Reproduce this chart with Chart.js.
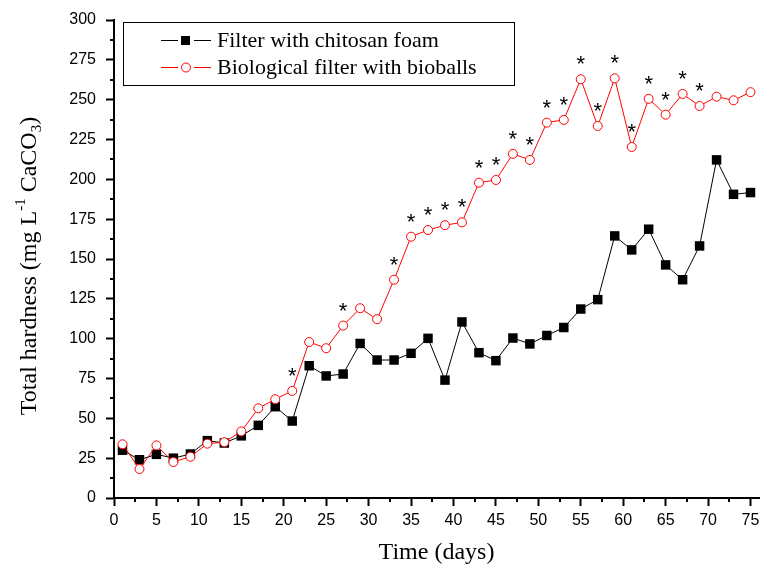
<!DOCTYPE html>
<html>
<head>
<meta charset="utf-8">
<script src="https://cdn.jsdelivr.net/npm/chart.js@4.4.0/dist/chart.umd.min.js"></script>
<style>
  body { margin: 0; background: #fff; }
  #wrap { width: 769px; height: 569px; }
</style>
</head>
<body>
<div id="wrap"><canvas id="myChart" width="769" height="569"></canvas></div>
<script>
// sampling days
const days = [1, 3, 5, 7, 9, 11, 13, 15, 17, 19, 21, 23, 25, 27, 29, 31, 33, 35, 37,
  39, 41, 43, 45, 47, 49, 51, 53, 55, 57, 59, 61, 63, 65, 67, 69, 71, 73, 75];

// total hardness, mg/L CaCO3
const chitosan = [30, 24, 27.4, 25, 27.6, 36, 34.5, 39, 45.6, 57.3, 48.3, 83, 76.6, 77.8,
  97, 86.6, 86.6, 90.8, 100.2, 74, 110.5, 91.2, 86.2, 100.4, 96.7, 102, 107, 118.6,
  124.5, 164.5, 155.7, 168.7, 146.3, 137, 158.2, 212.2, 190.6, 191.7];
const bioballs = [33.7, 18.2, 33, 22.6, 25.9, 34.1, 35, 41.8, 56.3, 62, 67.2, 97.9, 94,
  108.2, 119.1, 112.2, 137, 164, 168.2, 171.2, 173, 197.9, 199.6, 216, 212.2, 235.6,
  237.3, 262.8, 233.5, 263.4, 220.3, 250.5, 240.6, 253.6, 246, 251.9, 249.6, 254.7];

// days marked with a significance asterisk
const sigDays = [21, 27, 33, 35, 37, 39, 41, 43, 45, 47, 49, 51, 53, 55, 57, 59, 61, 63, 65, 67, 69];

const xTicks = [0, 5, 10, 15, 20, 25, 30, 35, 40, 45, 50, 55, 60, 65, 70, 75];
const yTicks = [0, 25, 50, 75, 100, 125, 150, 175, 200, 225, 250, 275, 300];

const serif = "'Liberation Serif', 'Times New Roman', serif";
const sans = "'Liberation Sans', Arial, sans-serif";

const toXY = (vals) => vals.map((v, i) => ({ x: days[i], y: v }));

// minor ticks halfway between the major ones
const minorTicks = {
  id: 'minorTicks',
  afterDraw(chart) {
    const c = chart.ctx;
    const xs = chart.scales.x, ys = chart.scales.y;
    c.save();
    c.strokeStyle = '#000';
    c.lineWidth = 2;
    c.beginPath();
    for (let i = 0; i < xTicks.length; i++) {
      const v = xTicks[i] + 2.5;
      if (v > xs.max) break;
      const px = Math.round(xs.getPixelForValue(v));
      c.moveTo(px, xs.top);
      c.lineTo(px, xs.top + 4);
    }
    for (let i = 0; i < yTicks.length - 1; i++) {
      const py = Math.round(ys.getPixelForValue(yTicks[i] + 12.5));
      c.moveTo(ys.right, py);
      c.lineTo(ys.right - 4, py);
    }
    c.stroke();
    c.restore();
  }
};

// asterisks above the bioball points
const stars = {
  id: 'stars',
  afterDatasetsDraw(chart) {
    const c = chart.ctx;
    const meta = chart.getDatasetMeta(1);
    c.save();
    c.fillStyle = '#000';
    c.font = '22px ' + sans;
    c.textAlign = 'center';
    c.textBaseline = 'alphabetic';
    sigDays.forEach(d => {
      const i = days.indexOf(d);
      const pt = meta.data[i];
      c.fillText('*', pt.x, pt.y - 8);
    });
    c.restore();
  }
};

// y axis title with super/subscripts
const yTitle = {
  id: 'yTitle',
  afterDraw(chart) {
    const c = chart.ctx;
    const parts = [
      { t: 'Total hardness (mg L', size: 24, dy: 0 },
      { t: '-1', size: 15, dy: -9 },
      { t: ' CaCO', size: 24, dy: 0 },
      { t: '3', size: 15, dy: 7 },
      { t: ')', size: 24, dy: 0 }
    ];
    c.save();
    c.translate(30, 266);
    c.rotate(-Math.PI / 2);
    c.fillStyle = '#000';
    c.textBaseline = 'middle';
    c.textAlign = 'left';
    let total = 0;
    parts.forEach(p => { c.font = p.size + 'px ' + serif; p.w = c.measureText(p.t).width; total += p.w; });
    let x = -total / 2;
    parts.forEach(p => {
      c.font = p.size + 'px ' + serif;
      c.fillText(p.t, x, p.dy);
      x += p.w;
    });
    c.restore();
  }
};

// legend box inside the plot
const boxLegend = {
  id: 'boxLegend',
  afterDraw(chart) {
    const c = chart.ctx;
    c.save();
    c.strokeStyle = '#000';
    c.lineWidth = 1;
    c.strokeRect(123.5, 22.5, 391, 63);
    const rows = [40, 67];
    chart.data.datasets.forEach((ds, i) => {
      const y = rows[i];
      c.strokeStyle = ds.borderColor;
      c.lineWidth = 1;
      c.beginPath();
      c.moveTo(161, y + 0.5); c.lineTo(178, y + 0.5);
      c.moveTo(194, y + 0.5); c.lineTo(211, y + 0.5);
      c.stroke();
      if (ds.pointStyle === 'rect') {
        c.fillStyle = ds.pointBackgroundColor;
        c.fillRect(181, y - 4, 9, 9);
      } else {
        c.fillStyle = '#fff';
        c.strokeStyle = ds.pointBorderColor;
        c.beginPath();
        c.arc(186, y + 0.5, 4.5, 0, Math.PI * 2);
        c.fill();
        c.stroke();
      }
      c.fillStyle = '#000';
      c.font = '22px ' + serif;
      c.textBaseline = 'middle';
      c.fillText(ds.label, 217, y + 1);
    });
    c.restore();
  }
};

const ctx = document.getElementById('myChart');
const myChart = new Chart(ctx, {
  type: 'line',
  data: {
    datasets: [
      {
        label: 'Filter with chitosan foam',
        data: toXY(chitosan),
        borderColor: '#000',
        borderWidth: 1,
        pointStyle: 'rect',
        pointRadius: 6.7,
        pointBackgroundColor: '#000',
        pointBorderColor: '#000',
        pointBorderWidth: 0,
        order: 1
      },
      {
        label: 'Biological filter with bioballs',
        data: toXY(bioballs),
        borderColor: '#ff0000',
        borderWidth: 1,
        pointStyle: 'circle',
        pointRadius: 4.5,
        pointBackgroundColor: '#fff',
        pointBorderColor: '#ff0000',
        pointBorderWidth: 1,
        order: 0
      }
    ]
  },
  options: {
    responsive: false,
    animation: false,
    devicePixelRatio: 1,
    layout: { padding: { top: 20, right: 10, left: 0, bottom: 0 } },
    plugins: {
      legend: { display: false },
      tooltip: { enabled: false }
    },
    scales: {
      x: {
        type: 'linear',
        min: 0,
        max: 76,
        afterBuildTicks: (s) => { s.ticks = xTicks.map(v => ({ value: v })); },
        afterFit: (s) => { s.height = 71; },
        border: { display: true, color: '#000', width: 2 },
        grid: { drawOnChartArea: false, drawTicks: true, tickLength: 8, tickWidth: 2, tickColor: '#000' },
        ticks: { color: '#000', font: { family: sans, size: 16 }, padding: 5, maxRotation: 0, autoSkip: false },
        title: { display: true, text: 'Time (days)', color: '#000', font: { family: serif, size: 24 }, padding: { top: 0, bottom: 2 } }
      },
      y: {
        min: 0,
        max: 300,
        afterBuildTicks: (s) => { s.ticks = yTicks.map(v => ({ value: v })); },
        afterFit: (s) => { s.width = 114; },
        border: { display: true, color: '#000', width: 2 },
        grid: { drawOnChartArea: false, drawTicks: true, tickLength: 8, tickWidth: 2, tickColor: '#000' },
        ticks: { color: '#000', font: { family: sans, size: 16 }, padding: 10, autoSkip: false }
      }
    }
  },
  plugins: [minorTicks, stars, yTitle, boxLegend]
});
</script>
</body>
</html>
